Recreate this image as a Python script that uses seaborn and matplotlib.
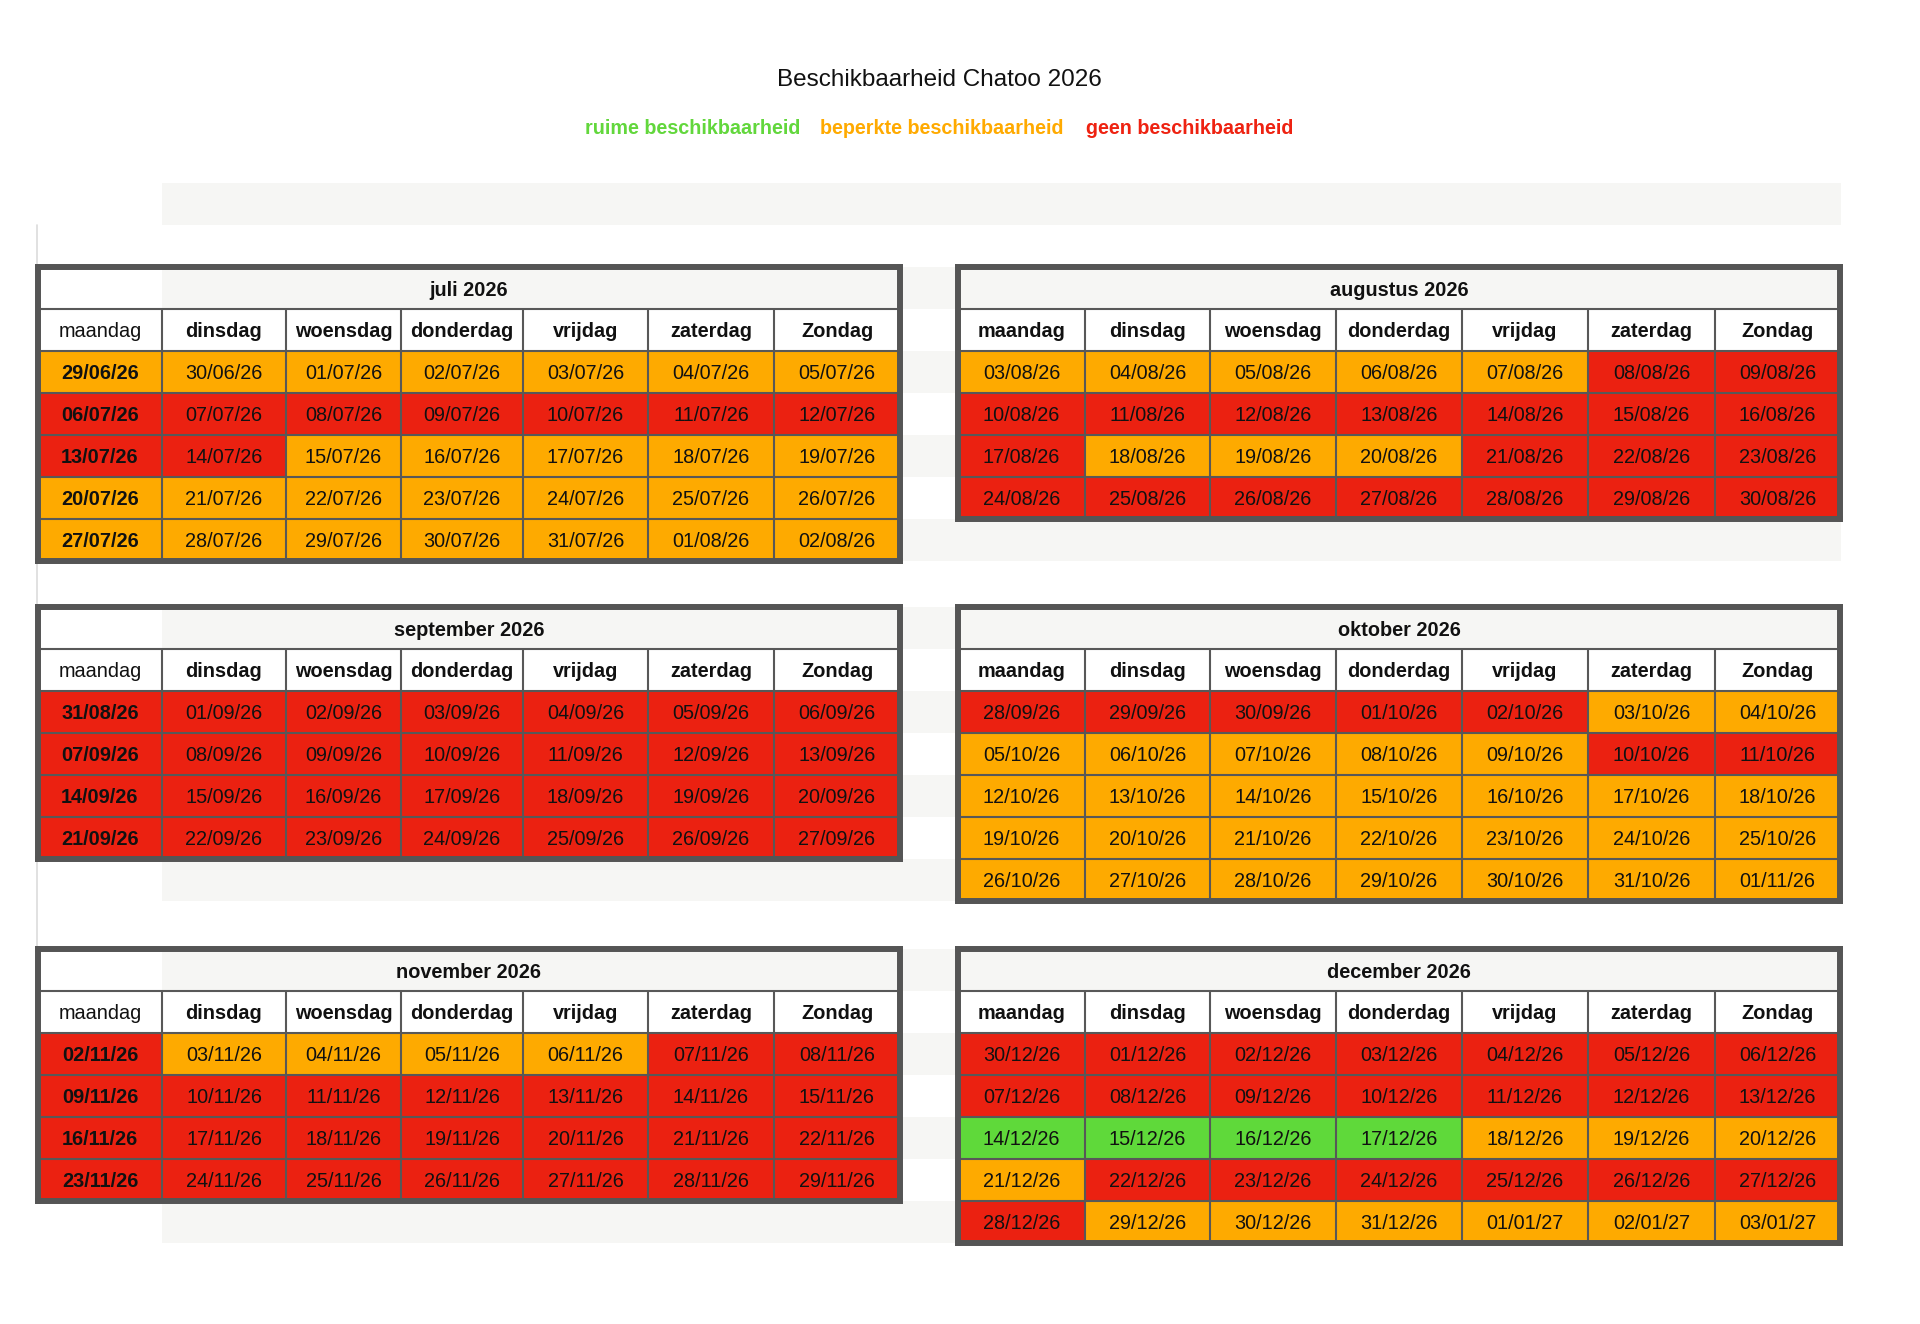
import numpy as np
import pandas as pd
import matplotlib
matplotlib.use("Agg")
import matplotlib.pyplot as plt
from matplotlib.colors import ListedColormap
from matplotlib.patches import Rectangle
from matplotlib.transforms import blended_transform_factory
import seaborn as sns
from datetime import date, timedelta

# ---------------- data ----------------
TITLE = "Beschikbaarheid Chatoo 2026"
LEGEND_LABELS = ["ruime beschikbaarheid", "beperkte beschikbaarheid", "geen beschikbaarheid"]
WEEKDAYS = ["maandag", "dinsdag", "woensdag", "donderdag", "vrijdag", "zaterdag", "Zondag"]
MONTHS = ["juli 2026", "augustus 2026", "september 2026",
          "oktober 2026", "november 2026", "december 2026"]
FIRST_MONDAYS = ["2026-06-29", "2026-08-03", "2026-08-31",
                 "2026-09-28", "2026-11-02", "2026-11-30"]
# labels exactly as printed in the source (first Monday of december is written 30/12/26)
LABEL_FIXES = {("december 2026", 0, 0): "30/12/26"}

# G = ruime, O = beperkte, R = geen beschikbaarheid
STATUS_JULI = ["OOOOOOO", "RRRRRRR", "RROOOOO", "OOOOOOO", "OOOOOOO"]
STATUS_AUGUSTUS = ["OOOOORR", "RRRRRRR", "ROOORRR", "RRRRRRR"]
STATUS_SEPTEMBER = ["RRRRRRR", "RRRRRRR", "RRRRRRR", "RRRRRRR"]
STATUS_OKTOBER = ["RRRRROO", "OOOOORR", "OOOOOOO", "OOOOOOO", "OOOOOOO"]
STATUS_NOVEMBER = ["ROOOORR", "RRRRRRR", "RRRRRRR", "RRRRRRR"]
STATUS_DECEMBER = ["RRRRRRR", "RRRRRRR", "GGGGOOO", "ORRRRRR", "ROOOOOO"]
STATUSES = [STATUS_JULI, STATUS_AUGUSTUS, STATUS_SEPTEMBER,
            STATUS_OKTOBER, STATUS_NOVEMBER, STATUS_DECEMBER]

# ---------------- style ----------------
WHITE = "#FFFFFF"
STRIPE = "#F6F6F4"
GREEN = "#5FD93A"
ORANGE = "#FEAA00"
RED = "#EB2111"
LINE = "#585858"
BORDER = "#555555"
LEGEND_COLORS = ["#62D73C", "#FFAA00", "#EE2211"]
CODE = {"G": 2, "O": 3, "R": 4}

sns.set_style("white")
plt.rcParams["font.family"] = ["Liberation Sans", "DejaVu Sans"]

W, H = 1920, 1324
ROW_H = 42
LEFT_EDGES = [38, 162, 286, 401, 523, 648, 774, 900]
RIGHT_EDGES = [958, 1085, 1210, 1336, 1462, 1588, 1715, 1840]
SECTION_TOP = [267, 607, 949]
STRIPE_X0, STRIPE_X1 = 162, 1841
LEGEND_X = [693, 942, 1190]

fig = plt.figure(figsize=(W / 100, H / 100), dpi=100)
fig.patch.set_facecolor("white")

bg = fig.add_axes([0, 0, 1, 1], zorder=0)
bg.set_xlim(0, W)
bg.set_ylim(H, 0)
bg.axis("off")

# spreadsheet background stripes
bg.add_patch(Rectangle((STRIPE_X0, SECTION_TOP[0] - 2 * ROW_H), STRIPE_X1 - STRIPE_X0, ROW_H,
                       facecolor=STRIPE, lw=0))
for T in SECTION_TOP:
    for k in (0, 2, 4, 6):
        bg.add_patch(Rectangle((STRIPE_X0, T + k * ROW_H), STRIPE_X1 - STRIPE_X0, ROW_H,
                               facecolor=STRIPE, lw=0))
bg.plot([37, 37], [SECTION_TOP[0] - ROW_H, SECTION_TOP[2]],
        color="#DCDCDC", lw=1.2)

bg.text(939, 80, TITLE, ha="center", va="center", fontsize=17.5, color="#111111")
for lab, colr, cx in zip(LEGEND_LABELS, LEGEND_COLORS, LEGEND_X):
    bg.text(cx, 128, lab, ha="center", va="center", fontsize=14.2,
            fontweight="bold", color=colr)

cmap = ListedColormap([WHITE, STRIPE, GREEN, ORANGE, RED])

for i, (month, status, monday) in enumerate(zip(MONTHS, STATUSES, FIRST_MONDAYS)):
    is_left = (i % 2 == 0)
    edges = LEFT_EDGES if is_left else RIGHT_EDGES
    top = SECTION_TOP[i // 2]
    nweeks = len(status)
    nrows = nweeks + 2

    codes = np.zeros((nrows, 7))
    codes[0, :] = 1
    if is_left:
        codes[0, 0] = 0
    for w, s in enumerate(status):
        codes[w + 2] = [CODE[c] for c in s]

    labels = np.full((nrows, 7), "", dtype=object)
    labels[1] = WEEKDAYS
    start = date.fromisoformat(monday)
    for w in range(nweeks):
        for d in range(7):
            lab = (start + timedelta(days=7 * w + d)).strftime("%d/%m/%y")
            labels[w + 2, d] = LABEL_FIXES.get((month, w, d), lab)

    x0, x1 = edges[0], edges[-1]
    y0, y1 = top, top + nrows * ROW_H
    ax = fig.add_axes([x0 / W, 1 - y1 / H, (x1 - x0) / W, (y1 - y0) / H], zorder=2)
    sns.heatmap(pd.DataFrame(codes), ax=ax, cmap=cmap, vmin=-0.5, vmax=4.5,
                cbar=False, annot=labels, fmt="", linewidths=0,
                xticklabels=False, yticklabels=False,
                annot_kws={"color": "black", "fontsize": 14.3})

    # piecewise-linear column widths
    e = np.array(edges, float)
    idx = np.r_[-1000.0, np.arange(8.0), 1007.0]
    ee = np.r_[e[0] - 1000 * (e[1] - e[0]), e, e[-1] + 1000 * (e[-1] - e[-2])]
    ax.set_xscale("function", functions=(lambda x, idx=idx, ee=ee: np.interp(x, idx, ee),
                                         lambda x, idx=idx, ee=ee: np.interp(x, ee, idx)))
    ax.set_xlim(0, 7)
    ax.set_ylim(nrows, 0)
    ax.set_xticks([])
    ax.set_yticks([])
    ax.set_xlabel("")
    ax.set_ylabel("")

    # font weights
    for t in ax.texts:
        px, py = t.get_position()
        col, row = int(px), int(py)
        if row == 1:
            bold = not (is_left and col == 0)
        else:
            bold = is_left and col == 0
        t.set_fontweight("bold" if bold else "normal")
        t.set_color("#111111")
        t.set_position((px, py + 0.04))

    # grid lines
    ax.hlines(np.arange(1, nrows), 0, 7, colors=LINE, lw=1.5)
    ax.vlines(np.arange(1, 7), 1, nrows, colors=LINE, lw=1.5)
    for sp in ax.spines.values():
        sp.set_visible(True)
        sp.set_linewidth(4.3)
        sp.set_color(BORDER)

    ax.text(0.5, 0.57, month, ha="center", va="center", fontsize=14.3,
            fontweight="bold", color="#111111",
            transform=blended_transform_factory(ax.transAxes, ax.transData))

fig.savefig("out.png", dpi=100, facecolor="white")
